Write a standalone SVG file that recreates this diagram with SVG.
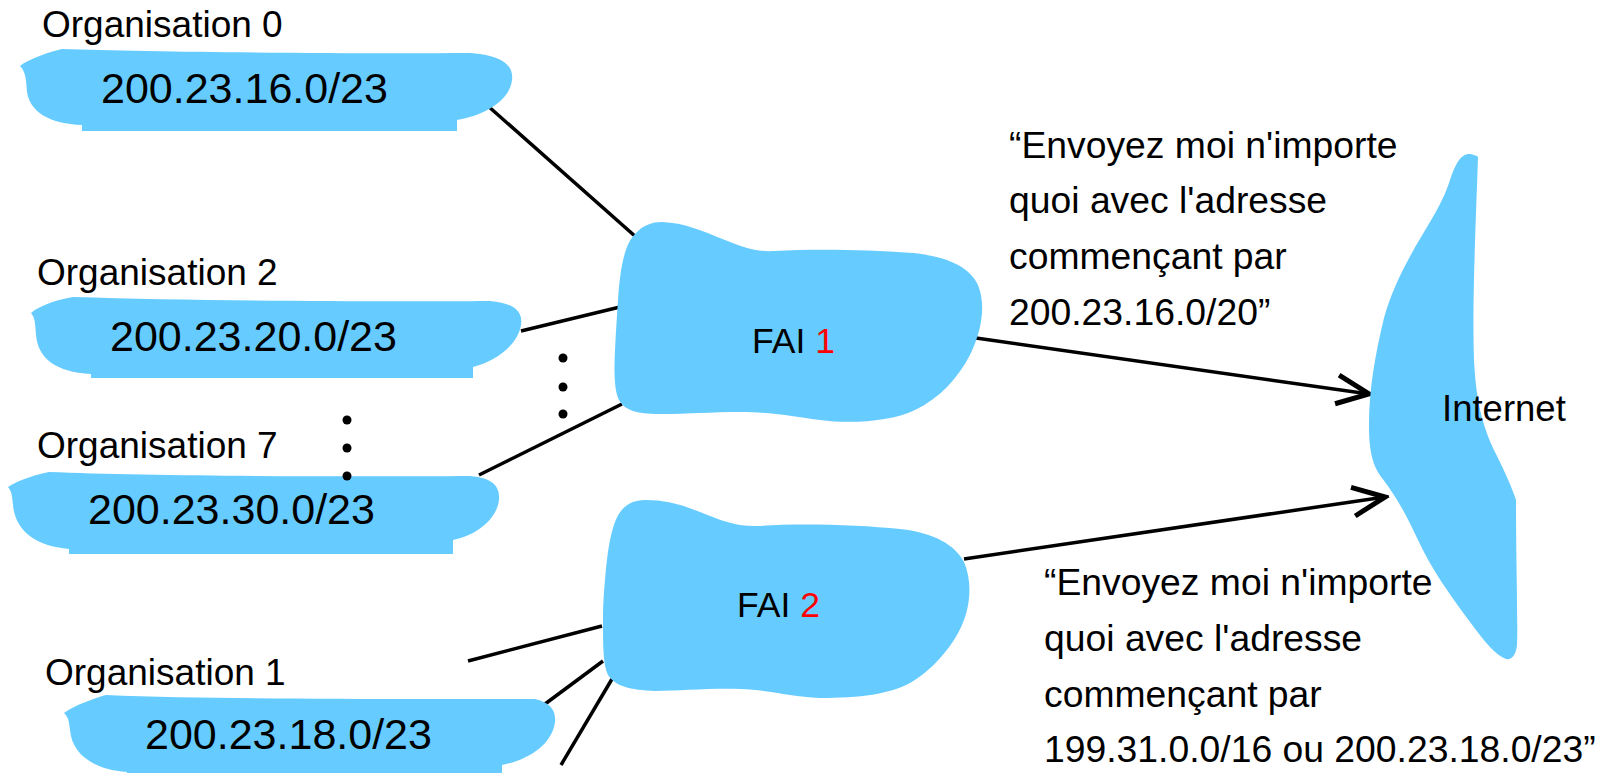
<svg xmlns="http://www.w3.org/2000/svg" width="1608" height="773" viewBox="0 0 1608 773">
<defs>
<style>
.blob{fill:#66CCFF;stroke:none}
.t{font-family:"Liberation Sans",Arial,Helvetica,sans-serif;fill:#000}
.org{font-size:37px}
.ip{font-size:43px}
.fai{font-size:35.5px}
.q{font-size:37.3px}
.red{fill:#FF0000}
.ln{stroke:#000;stroke-width:3.5;fill:none;stroke-linecap:butt}
.dot{fill:#000}
</style>
<marker id="open" markerUnits="userSpaceOnUse" markerWidth="40" markerHeight="40" viewBox="-32 -18 36 36" refX="0" refY="0" orient="auto">
<path d="M-29,-13 L0,0 L-29,13" fill="none" stroke="#000" stroke-width="4.5"/>
</marker>
</defs>
<rect width="1608" height="773" fill="#fff"/>

<g id="connectors">
<line class="ln" x1="488" y1="106" x2="636" y2="237"/>
<line class="ln" x1="521" y1="331" x2="620" y2="307"/>
<line class="ln" x1="479" y1="475" x2="622" y2="404"/>
<line class="ln" x1="468" y1="661" x2="602" y2="626"/>
<line class="ln" x1="545" y1="704" x2="603" y2="661"/>
<line class="ln" x1="561" y1="765" x2="612" y2="679"/>
<line class="ln" x1="976" y1="338" x2="1369" y2="394" marker-end="url(#open)"/>
<line class="ln" x1="964" y1="559" x2="1385" y2="497" marker-end="url(#open)"/>
</g>

<g id="org0">
<path class="blob" d="M20,66 C30,58 50,52 62,49 C150,52 350,54 470,53 C500,55 514,64 512,80 C510,98 490,114 457,120 L457,131 L82,131 L82,125 C50,124 30,112 27,92 C26,80 26,72 20,66 Z"/>
<text class="t org" x="42" y="37">Organisation 0</text>
<text class="t ip" x="101" y="103">200.23.16.0/23</text>
</g>

<g id="org2">
<path class="blob" d="M31,313 C40,305 60,299 73,297 C200,301 380,302 490,301 C515,303 523,312 521,325 C518,345 495,362 473,367 L473,378 L91,378 L91,374 C55,372 38,358 36,335 C35,322 35,318 31,313 Z"/>
<text class="t org" x="37" y="285">Organisation 2</text>
<text class="t ip" x="110" y="351">200.23.20.0/23</text>
</g>

<g id="org7">
<path class="blob" d="M8,487 C18,480 38,474 49,472 C150,476 350,477 470,476 C495,478 500,488 499,500 C497,518 478,535 453,540 L453,554 L69,554 L69,549 C35,546 15,530 13,505 C12,496 12,492 8,487 Z"/>
<text class="t org" x="37" y="458">Organisation 7</text>
<text class="t ip" x="88" y="524">200.23.30.0/23</text>
</g>

<g id="org1">
<path class="blob" d="M64,713 C75,705 95,698 106,695 C230,700 420,699 535,699 C552,703 556,712 555,722 C552,745 528,760 502,765 L502,775 L127,775 L127,772 C95,770 72,755 70,730 C69,722 69,718 64,713 Z"/>
<text class="t org" x="45" y="685">Organisation 1</text>
<text class="t ip" x="145" y="749">200.23.18.0/23</text>
</g>

<g id="dots">
<circle class="dot" cx="347" cy="420" r="4.5"/>
<circle class="dot" cx="347" cy="448" r="4.5"/>
<circle class="dot" cx="347" cy="476" r="4.5"/>
<circle class="dot" cx="563" cy="358" r="4.5"/>
<circle class="dot" cx="563" cy="387" r="4.5"/>
<circle class="dot" cx="563" cy="414" r="4.5"/>
</g>

<g id="fai1">
<path class="blob" d="M618,300 C620,270 624,245 635,234 C643,225 652,222 662,222 C685,223 700,230 725,240 C745,248 755,252 775,251 C810,249 860,249 913,253 C950,257 970,268 978,285 C986,305 982,330 970,355 C958,378 940,398 915,410 C890,422 850,424 820,420 C790,416 770,412 740,412 C710,412 690,414 660,414 C635,414 625,410 619,400 C614,390 614,370 615,350 C616,330 617,315 618,300 Z"/>
<text class="t fai" x="752" y="353">FAI <tspan class="red">1</tspan></text>
</g>

<g id="fai2">
<path class="blob" d="M605,580 C607,555 610,535 615,522 C620,508 630,500 645,500 C665,500 680,504 700,512 C720,520 735,527 760,526 C800,523 860,525 900,529 C935,533 955,545 964,562 C972,580 971,605 962,625 C952,648 930,672 910,683 C890,694 860,698 820,698 C790,697 770,690 740,689 C710,688 680,691 655,691 C630,690 615,686 608,675 C603,665 603,645 603,620 C603,605 604,590 605,580 Z"/>
<text class="t fai" x="737" y="617">FAI <tspan class="red">2</tspan></text>
</g>

<g id="internet">
<path class="blob" d="M1450,180 C1455,165 1460,155 1468,154 C1473,154 1477,156 1478,157 C1476,220 1472,300 1474,360 C1476,400 1482,425 1495,452 C1505,472 1512,488 1516,500 C1516,560 1518,620 1517,645 C1516,655 1512,660 1506,659 C1495,655 1485,642 1470,622 C1450,595 1432,570 1418,540 C1405,512 1395,495 1382,478 C1372,465 1369,450 1369,425 C1369,390 1375,355 1384,318 C1393,285 1410,255 1430,222 C1440,205 1445,195 1450,180 Z"/>
<text class="t" x="1442" y="421" style="font-size:36.5px">Internet</text>
</g>

<g id="note1">
<text class="t q" x="1009" y="158">“Envoyez moi n'importe</text>
<text class="t q" x="1009" y="213">quoi avec l'adresse</text>
<text class="t q" x="1009" y="269">commençant par</text>
<text class="t q" x="1009" y="325">200.23.16.0/20”</text>
</g>

<g id="note2">
<text class="t q" x="1044" y="595">“Envoyez moi n'importe</text>
<text class="t q" x="1044" y="651">quoi avec l'adresse</text>
<text class="t q" x="1044" y="707">commençant par</text>
<text class="t q" x="1044" y="762">199.31.0.0/16 ou 200.23.18.0/23”</text>
</g>
</svg>
